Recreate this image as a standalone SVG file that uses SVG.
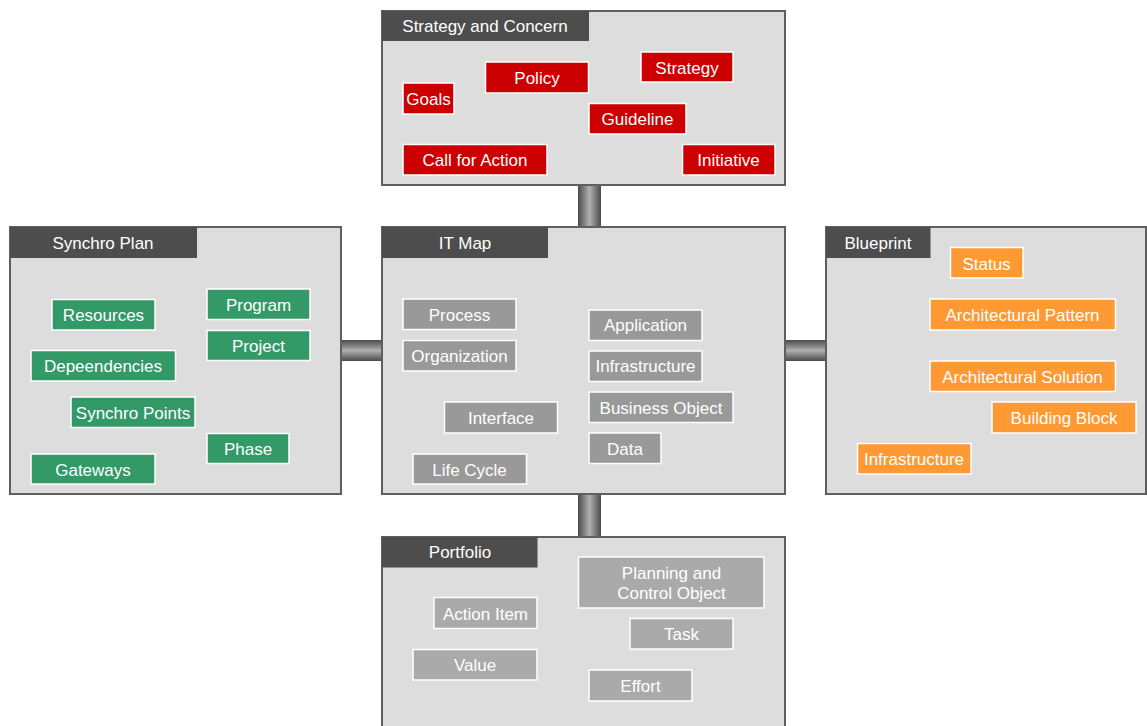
<svg xmlns="http://www.w3.org/2000/svg" width="1147" height="726" viewBox="0 0 1147 726">
<defs>
<linearGradient id="gv" x1="0" y1="0" x2="1" y2="0">
<stop offset="0" stop-color="#4a4a4a"/><stop offset="0.5" stop-color="#b0b0b0"/><stop offset="1" stop-color="#4a4a4a"/>
</linearGradient>
<linearGradient id="gh" x1="0" y1="0" x2="0" y2="1">
<stop offset="0" stop-color="#4a4a4a"/><stop offset="0.5" stop-color="#b0b0b0"/><stop offset="1" stop-color="#4a4a4a"/>
</linearGradient>
<style>
.panel{fill:#dddddd;stroke:#5f5f5f;stroke-width:2}
.hdr{fill:#4d4d4d}
.t{font-family:"Liberation Sans",Arial,sans-serif;font-size:17px;fill:#ffffff;text-anchor:middle;dominant-baseline:central}
.red{fill:#cc0000;stroke:#ffffff;stroke-width:1.5}
.grn{fill:#339966;stroke:#ffffff;stroke-width:1.5}
.gry{fill:#999999;stroke:#ffffff;stroke-width:1.5}
.lgr{fill:#aaaaaa;stroke:#ffffff;stroke-width:1.5}
.org{fill:#ff9933;stroke:#ffffff;stroke-width:1.5}
</style>
</defs>
<rect width="1147" height="726" fill="#ffffff"/>
<g id="connectors">
<rect x="578" y="185" width="23" height="42" fill="url(#gv)"/>
<rect x="578" y="493" width="23" height="44" fill="url(#gv)"/>
<rect x="340" y="340" width="43" height="21" fill="url(#gh)"/>
<rect x="784" y="340" width="43" height="21" fill="url(#gh)"/>
</g>
<g id="strategy">
<rect class="panel" x="382" y="11" width="403" height="174"/>
<rect class="hdr" x="382" y="11" width="207" height="30"/>
<text class="t" x="485" y="26">Strategy and Concern</text>
<g id="goals"><rect class="red" x="403" y="83" width="51" height="31"/><text class="t" x="428.5" y="99">Goals</text></g>
<g id="policy"><rect class="red" x="485.5" y="62" width="103" height="31"/><text class="t" x="537" y="78">Policy</text></g>
<g id="strategy-item"><rect class="red" x="641" y="52" width="92" height="30"/><text class="t" x="687" y="68">Strategy</text></g>
<g id="guideline"><rect class="red" x="589" y="103.5" width="97" height="30.5"/><text class="t" x="637.5" y="119">Guideline</text></g>
<g id="callforaction"><rect class="red" x="403" y="144.5" width="144" height="30.5"/><text class="t" x="475" y="160">Call for Action</text></g>
<g id="initiative"><rect class="red" x="682.5" y="144.5" width="92.5" height="30.5"/><text class="t" x="728.5" y="160">Initiative</text></g>
</g>
<g id="synchro">
<rect class="panel" x="10" y="227" width="331" height="267"/>
<rect class="hdr" x="10" y="227" width="187" height="31"/>
<text class="t" x="103" y="243">Synchro Plan</text>
<g id="resources"><rect class="grn" x="52" y="299.5" width="103" height="30.5"/><text class="t" x="103.5" y="315">Resources</text></g>
<g id="program"><rect class="grn" x="207" y="289" width="103" height="30.5"/><text class="t" x="258.5" y="305">Program</text></g>
<g id="project"><rect class="grn" x="207" y="330.5" width="103" height="30"/><text class="t" x="258.5" y="346">Project</text></g>
<g id="dependencies"><rect class="grn" x="31" y="350.5" width="144.5" height="30.5"/><text class="t" x="103" y="366">Depeendencies</text></g>
<g id="synchropoints"><rect class="grn" x="71" y="397" width="124" height="30.5"/><text class="t" x="133" y="413">Synchro Points</text></g>
<g id="phase"><rect class="grn" x="207" y="433.5" width="82" height="30"/><text class="t" x="248" y="449">Phase</text></g>
<g id="gateways"><rect class="grn" x="31" y="454" width="124" height="30"/><text class="t" x="93" y="470">Gateways</text></g>
</g>
<g id="itmap">
<rect class="panel" x="382" y="227" width="403" height="267"/>
<rect class="hdr" x="382" y="227" width="166" height="31"/>
<text class="t" x="465" y="243">IT Map</text>
<g id="process"><rect class="gry" x="403" y="299" width="113" height="30.5"/><text class="t" x="459.5" y="315">Process</text></g>
<g id="organization"><rect class="gry" x="403" y="340.5" width="113" height="30.5"/><text class="t" x="459.5" y="356">Organization</text></g>
<g id="interface"><rect class="gry" x="444.5" y="402" width="113" height="31"/><text class="t" x="501" y="418">Interface</text></g>
<g id="lifecycle"><rect class="gry" x="413" y="454" width="113.5" height="30"/><text class="t" x="469.5" y="470">Life Cycle</text></g>
<g id="application"><rect class="gry" x="589" y="310" width="113" height="30.5"/><text class="t" x="645.5" y="325">Application</text></g>
<g id="infrastructure-it"><rect class="gry" x="589" y="351" width="113" height="30.5"/><text class="t" x="645.5" y="366">Infrastructure</text></g>
<g id="businessobject"><rect class="gry" x="589" y="392" width="144" height="30.5"/><text class="t" x="661" y="408">Business Object</text></g>
<g id="data"><rect class="gry" x="589" y="433" width="72" height="30.5"/><text class="t" x="625" y="449">Data</text></g>
</g>
<g id="blueprint">
<rect class="panel" x="826" y="227" width="320" height="267"/>
<rect class="hdr" x="826" y="227" width="104.5" height="31"/>
<text class="t" x="878" y="243">Blueprint</text>
<g id="status"><rect class="org" x="950.5" y="247.5" width="72.5" height="30.5"/><text class="t" x="986.5" y="264">Status</text></g>
<g id="archpattern"><rect class="org" x="930" y="299" width="185.5" height="31"/><text class="t" x="1022.5" y="315">Architectural Pattern</text></g>
<g id="archsolution"><rect class="org" x="930" y="361" width="185.5" height="30.5"/><text class="t" x="1022.5" y="377">Architectural Solution</text></g>
<g id="buildingblock"><rect class="org" x="992" y="402" width="144" height="31"/><text class="t" x="1064" y="418">Building Block</text></g>
<g id="infrastructure-bp"><rect class="org" x="857.5" y="443.5" width="113.5" height="30.5"/><text class="t" x="914" y="459">Infrastructure</text></g>
</g>
<g id="portfolio">
<rect class="panel" x="382" y="537" width="403" height="200"/>
<rect class="hdr" x="382" y="537" width="155.5" height="30.5"/>
<text class="t" x="460" y="552">Portfolio</text>
<g id="planning"><rect class="lgr" x="578.5" y="557" width="185.5" height="51"/><text class="t" x="671.5" y="573">Planning and</text><text class="t" x="671.5" y="593">Control Object</text></g>
<g id="actionitem"><rect class="lgr" x="434" y="597.5" width="103" height="31"/><text class="t" x="485.5" y="614">Action Item</text></g>
<g id="task"><rect class="lgr" x="630" y="618.5" width="103" height="30.5"/><text class="t" x="681.5" y="634">Task</text></g>
<g id="value"><rect class="lgr" x="413" y="649.5" width="124" height="30.5"/><text class="t" x="475" y="665">Value</text></g>
<g id="effort"><rect class="lgr" x="589" y="670" width="103" height="31"/><text class="t" x="640.5" y="686">Effort</text></g>
</g>
</svg>
